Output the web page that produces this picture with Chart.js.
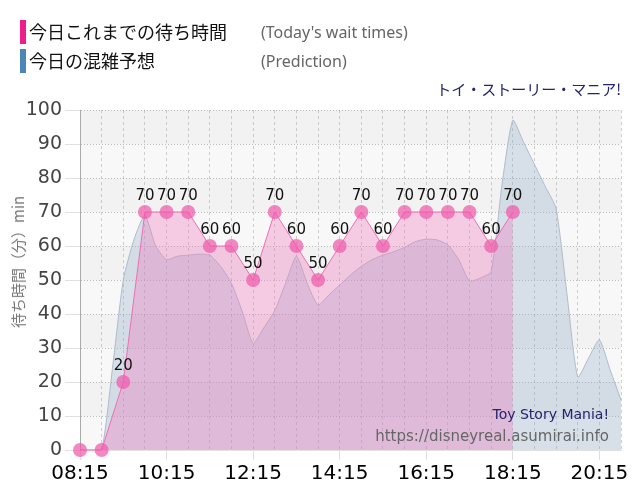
<!DOCTYPE html>
<html>
<head>
<meta charset="utf-8">
<script src="https://cdn.jsdelivr.net/npm/chart.js@4/dist/chart.umd.min.js"></script>
<style>
  html, body { margin: 0; padding: 0; background: #fff; }
  #wrap { position: relative; width: 640px; height: 500px; overflow: hidden; }
  canvas { position: absolute; left: 0; top: 0; }
  .abs { position: absolute; white-space: nowrap; }
  .bar { position: absolute; width: 6px; height: 24px; }
  .jp { font-family: "Noto Sans CJK JP", "Noto Sans", sans-serif; }
</style>
</head>
<body>
<div id="wrap">
  <canvas id="c" width="640" height="500"></canvas>
  <div class="bar" style="left:20px;top:20px;background:#f01e8c;"></div>
  <div class="bar" style="left:20px;top:49px;background:#4a86b8;"></div>
  <div class="abs jp" style="left:29px;top:19px;font-size:18px;line-height:24px;color:#111;">今日これまでの待ち時間</div>
  <div class="abs jp" style="left:29px;top:48px;font-size:18px;line-height:24px;color:#111;">今日の混雑予想</div>
  <div class="abs" style="left:261px;top:20px;font-family:'Noto Sans';font-size:16px;line-height:24px;color:#666;">(Today's wait times)</div>
  <div class="abs" style="left:261px;top:49px;font-family:'Noto Sans';font-size:16px;line-height:24px;color:#666;">(Prediction)</div>
  <div class="abs jp" style="right:19px;top:79px;font-size:15px;line-height:20px;color:#23236e;">トイ・ストーリー・マニア!</div>
  <div class="abs" style="right:31px;top:404px;font-family:'DejaVu Sans';font-size:14px;line-height:20px;color:#23236e;">Toy Story Mania!</div>
  <div class="abs" style="right:31px;top:426px;font-family:'DejaVu Sans';font-size:15px;line-height:20px;color:#666;">https://disneyreal.asumirai.info</div>
  <div class="abs jp" style="left:18px;top:262px;font-size:15px;line-height:18px;color:#777;transform:translate(-50%,-50%) rotate(-90deg);">待ち時間（分）min</div>
</div>
<script>
// ---- data ----
const waitTimes = ["08:15","08:45","09:15","09:45","10:15","10:45","11:15","11:45","12:15","12:45","13:15","13:45","14:15","14:45","15:15","15:45","16:15","16:45","17:15","17:45","18:15"];
const waitValues = [0,0,20,70,70,70,60,60,50,70,60,50,60,70,60,70,70,70,70,60,70];

const predTimes = ["08:15","08:30","08:45","09:00","09:15","09:30","09:45","10:00","10:15","10:30","10:45","11:00","11:15","11:30","11:45","12:00","12:15","12:30","12:45","13:00","13:15","13:30","13:45","14:00","14:15","14:30","14:45","15:00","15:15","15:30","15:45","16:00","16:15","16:30","16:45","17:00","17:15","17:30","17:45","18:00","18:15","18:30","18:45","19:00","19:15","19:30","19:45","20:00","20:15","20:30","20:45"];
const predValues = [0,0,0,24,50,62,69,60,56,57,57.3,57.6,57.3,54,49,40.7,31.4,36,41,49,57,49,42.6,45.6,48.5,51.5,54,56,57.3,58.3,59.6,61.3,62,61.8,60.3,56,49.7,50.6,52.5,78,97,90.5,84,77.5,71,46,21.5,27,32.4,23.5,14.7];

const xTickLabels = ["08:15","10:15","12:15","14:15","16:15","18:15","20:15"];
const yTicks = [0,10,20,30,40,50,60,70,80,90,100];

const START = 8*60+15;
const toMin = t => { const [h,m] = t.split(":").map(Number); return h*60+m - START; };
const fmt = v => { const t = v + START; const h = Math.floor(t/60), m = t%60; return String(h).padStart(2,"0")+":"+String(m).padStart(2,"0"); };

const bandsPlugin = {
  id: "bands",
  beforeDraw(chart) {
    const {ctx, chartArea: a, scales: {y}} = chart;
    ctx.save();
    for (let i = 0; i < yTicks.length - 1; i++) {
      const lo = yTicks[i], hi = yTicks[i+1];
      const y1 = y.getPixelForValue(hi), y2 = y.getPixelForValue(lo);
      ctx.fillStyle = (i % 2 === 1) ? "#f2f2f2" : "#f8f8f8";
      ctx.fillRect(a.left, y1, a.right - a.left, y2 - y1);
    }
    ctx.restore();
  }
};

const labelPlugin = {
  id: "vlabels",
  afterDatasetsDraw(chart) {
    const ctx = chart.ctx;
    const meta = chart.getDatasetMeta(0);
    ctx.save();
    ctx.font = "15px 'DejaVu Sans'";
    ctx.fillStyle = "#111";
    ctx.textAlign = "center";
    ctx.textBaseline = "alphabetic";
    meta.data.forEach((pt, i) => {
      const v = waitValues[i];
      if (v > 0) ctx.fillText(String(v), pt.x, pt.y - 12);
    });
    ctx.restore();
  }
};

new Chart(document.getElementById("c"), {
  type: "line",
  data: {
    datasets: [
      {
        label: "今日これまでの待ち時間",
        data: waitTimes.map((t,i) => ({x: toMin(t), y: waitValues[i]})),
        borderColor: "#f06eb4",
        borderWidth: 1,
        backgroundColor: "rgba(240,120,190,0.35)",
        fill: "origin",
        tension: 0,
        pointRadius: 7,
        pointBorderWidth: 0,
        pointBackgroundColor: "rgba(238,90,170,0.72)",
        clip: false
      },
      {
        label: "今日の混雑予想",
        data: predTimes.map((t,i) => ({x: toMin(t), y: predValues[i]})),
        borderColor: "#aebccb",
        borderWidth: 1,
        backgroundColor: "rgba(140,165,195,0.3)",
        fill: "origin",
        tension: 0.2,
        pointRadius: 0
      }
    ]
  },
  options: {
    responsive: false,
    animation: false,
    events: [],
    layout: { padding: { top: 110, right: 19, left: 0, bottom: 0 } },
    plugins: { legend: { display: false }, tooltip: { enabled: false } },
    scales: {
      x: {
        type: "linear",
        min: 0, max: 750,
        afterFit: s => { s.height = 50; },
        afterBuildTicks: s => { const t = []; for (let v = 0; v <= 750; v += 30) t.push({value: v}); s.ticks = t; },
        ticks: {
          autoSkip: false, maxRotation: 0,
          color: "#000",
          font: { family: "DejaVu Sans", size: 20 },
          padding: 2,
          callback: v => xTickLabels.includes(fmt(v)) ? fmt(v) : ""
        },
        grid: {
          color: "rgba(170,170,170,0.55)",
          tickLength: 10,
          tickColor: c => (c.tick && xTickLabels.includes(fmt(c.tick.value))) ? "rgba(190,190,190,0.5)" : "transparent"
        },
        border: { display: true, color: "#e2e2e2", dash: [3,3] }
      },
      y: {
        min: 0, max: 100,
        afterFit: s => { s.width = 80; },
        afterBuildTicks: s => { s.ticks = yTicks.map(v => ({value: v})); },
        ticks: {
          color: "#444",
          font: { family: "DejaVu Sans", size: 19 },
          padding: 3
        },
        grid: {
          color: "rgba(150,150,150,0.6)",
          tickLength: 15,
          tickColor: "#e0e0e0"
        },
        border: { display: true, color: "#aaa", dash: [1,2] }
      }
    }
  },
  plugins: [bandsPlugin, labelPlugin]
});
</script>
</body>
</html>
